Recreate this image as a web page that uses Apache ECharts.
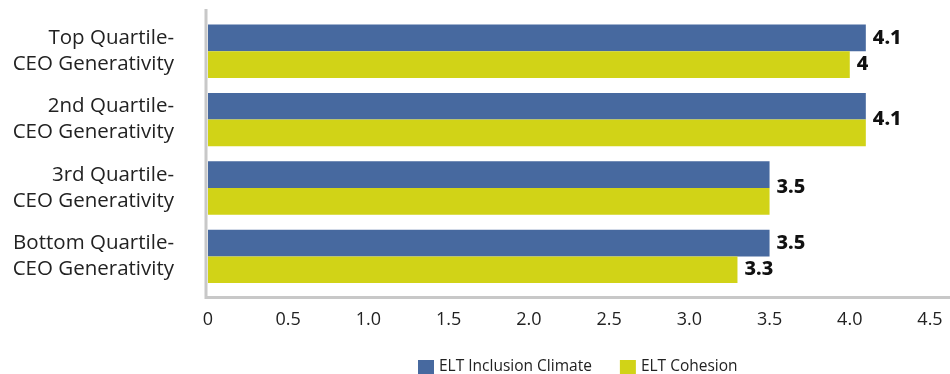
<!DOCTYPE html>
<html>
<head>
<meta charset="utf-8">
<style>
  html, body { margin: 0; padding: 0; background: #fff; }
  #chart { width: 950px; height: 374px; }
</style>
<script src="https://cdn.jsdelivr.net/npm/echarts@6/dist/echarts.min.js"></script>
</head>
<body>
<div id="chart"></div>
<script>
// Quartile groups, listed top to bottom
const categories = [
  'Top Quartile-\nCEO Generativity',
  '2nd Quartile-\nCEO Generativity',
  '3rd Quartile-\nCEO Generativity',
  'Bottom Quartile-\nCEO Generativity'
];
const seriesNames = ['ELT Inclusion Climate', 'ELT Cohesion'];
const inclusionClimate = [4.1, 4.1, 3.5, 3.5];
const cohesion = [4.0, 4.1, 3.5, 3.3];
const xTickLabels = ['0', '0.5', '1.0', '1.5', '2.0', '2.5', '3.0', '3.5', '4.0', '4.5'];

// Groups where both bars share one value label, placed between the two bars
const sharedLabelGroups = [1, 2];

const BLUE = '#47699f';
const YELLOW = '#d1d317';
const BAR_FONT = {
  fontFamily: '"Noto Sans", "DejaVu Sans", sans-serif',
  fontWeight: '800 extra-condensed',
  fontSize: 20,
  color: '#111'
};

function buildItems(values, isFirst) {
  return values.map((v, i) => {
    if (sharedLabelGroups.indexOf(i) === -1) return { value: v };
    return isFirst
      ? { value: v, label: { offset: [0, 13] } }
      : { value: v, label: { show: false } };
  });
}

const chart = echarts.init(document.getElementById('chart'), null, { renderer: 'canvas' });

chart.setOption({
  backgroundColor: '#fff',
  animation: false,
  grid: { left: 208, right: 20, top: 17, bottom: 83.4, containLabel: false },
  legend: {
    data: seriesNames,
    left: 418,
    top: 359,
    padding: 0,
    itemWidth: 16,
    itemHeight: 14,
    itemGap: 28,
    icon: 'rect',
    textStyle: { fontFamily: '"Open Sans", sans-serif', fontSize: 15.5, color: '#222' }
  },
  xAxis: {
    type: 'value',
    min: 0,
    max: 4.5,
    interval: 0.5,
    splitLine: { show: false },
    axisLine: { show: false },
    axisTick: { show: false },
    axisLabel: {
      margin: 20,
      fontFamily: '"Open Sans", sans-serif',
      fontSize: 18,
      color: '#222',
      formatter: (v) => xTickLabels[Math.round(v / 0.5)]
    }
  },
  yAxis: {
    type: 'category',
    data: categories,
    inverse: true,
    axisLine: { show: false },
    axisTick: { show: false },
    axisLabel: {
      margin: 34,
      align: 'right',
      fontFamily: '"Open Sans", sans-serif',
      fontSize: 20.5,
      lineHeight: 26,
      color: '#222'
    }
  },
  graphic: [
    { type: 'line', silent: true, shape: { x1: 206, y1: 9, x2: 206, y2: 299 },
      style: { stroke: '#c8c8c8', lineWidth: 3 } },
    { type: 'line', silent: true, shape: { x1: 205, y1: 297.5, x2: 950, y2: 297.5 },
      style: { stroke: '#c8c8c8', lineWidth: 3 } }
  ],
  series: [
    {
      name: seriesNames[0],
      type: 'bar',
      data: buildItems(inclusionClimate, true),
      itemStyle: { color: BLUE },
      barGap: '0%',
      barCategoryGap: '22%',
      label: Object.assign({ show: true, position: 'right', distance: 7 }, BAR_FONT)
    },
    {
      name: seriesNames[1],
      type: 'bar',
      data: buildItems(cohesion, false),
      itemStyle: { color: YELLOW },
      barGap: '0%',
      barCategoryGap: '22%',
      label: Object.assign({ show: true, position: 'right', distance: 7 }, BAR_FONT)
    }
  ]
});
</script>
</body>
</html>
